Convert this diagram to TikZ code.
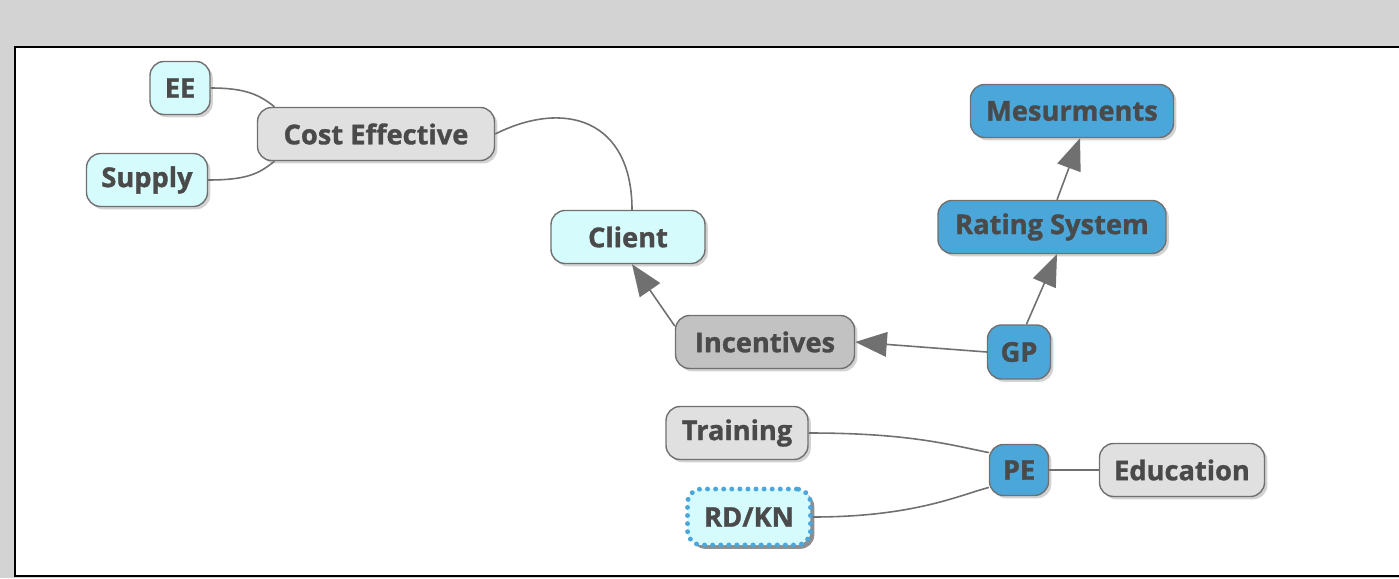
\documentclass[tikz,border=0pt]{standalone}
\usepackage{fontspec}
\setmainfont{Open Sans}[BoldFeatures={FakeBold=1.2}]
\usepackage{xcolor}
\usepackage{tikz}
\usetikzlibrary{arrows.meta,shadows}

\definecolor{bggray}{HTML}{D3D3D3}
\definecolor{cyanfill}{HTML}{D6FBFD}
\definecolor{grayfill}{HTML}{E0E0E0}
\definecolor{midgray}{HTML}{C2C2C2}
\definecolor{bluefill}{HTML}{4BA7DA}
\definecolor{rimgray}{HTML}{707070}
\definecolor{inkgray}{HTML}{4A4A4A}

\begin{document}
\begin{tikzpicture}[x=0.02cm, y=-0.02cm]
	\useasboundingbox (0, 0) rectangle (1399, 578);
	\fill[bggray] (0, 0) rectangle (1399, 578);
	\draw[fill=white, line width=1.2pt] (15, 47) rectangle (1420, 576);

	\begin{scope}[
		topic/.style={align=center, draw=rimgray, line width=0.8pt, rounded corners=8pt, text=inkgray, font=\fontsize{15.5}{17}\selectfont\bfseries, minimum height=1.06cm, inner xsep=0pt, drop shadow={shadow xshift=1.6pt, shadow yshift=-1.6pt, opacity=0.35}},
		pale/.style={topic, fill=cyanfill},
		plain/.style={topic, fill=grayfill},
		deep/.style={topic, fill=bluefill}]
		\node[pale, minimum width=1.2cm] (EE) at (180, 88) {EE};
		\node[pale, minimum width=2.42cm] (Supply) at (147, 180) {Supply};
		\node[plain, minimum width=4.74cm] (Cost) at (376, 134) {Cost Effective};
		\node[pale, minimum width=3.08cm] (Client) at (628, 237) {Client};
		\node[deep, minimum width=4.06cm] (Mesurments) at (1072, 111) {Mesurments};
		\node[deep, minimum width=4.56cm] (Rating) at (1052, 227) {Rating System};
		\node[plain, fill=midgray, minimum width=3.58cm] (Incentives) at (765, 342) {Incentives};
		\node[deep, minimum width=1.26cm, minimum height=1.08cm] (GP) at (1019, 352) {GP};
		\node[plain, minimum width=2.84cm] (Training) at (737, 433) {Training};
		\node[pale, draw=bluefill, line width=2.8pt, line cap=round, dash pattern=on 0pt off 4.6pt, minimum width=2.46cm, minimum height=1.12cm, drop shadow={shadow xshift=2.2pt, shadow yshift=-2.2pt, opacity=0.85}] (RDKN) at (749, 517) {RD/KN};
		\node[deep, minimum width=1.18cm, minimum height=1.02cm] (PE) at (1019, 470) {PE};
		\node[plain, minimum width=3.3cm] (Education) at (1182, 470) {Education};
	\end{scope}

	\begin{scope}[link/.style={draw=rimgray, line width=0.9pt}, push/.style={link, -{Triangle[length=18pt, width=14pt]}}]
		\draw[link] (EE.east) .. controls +(35, 0) and +(-15, -12) .. (Cost.165);
		\draw[link] (Supply.east) .. controls +(40, 0) and +(-15, 12) .. (Cost.195);
		\draw[link] (Cost.east) .. controls +(70, -35) and +(0, -90) .. ([xshift=0.08cm]Client.north);
		\draw[push] (Incentives.170) -- ([xshift=0.08cm]Client.south);
		\draw[push] (GP.west) -- (Incentives.east);
		\draw[push] (GP.75) -- ([xshift=0.1cm]Rating.south);
		\draw[push] ([xshift=0.1cm]Rating.north) -- ([xshift=0.16cm]Mesurments.south);
		\draw[link] (Training.east) .. controls +(100, 0) and +(-40, -8) .. (PE.150);
		\draw[link] (RDKN.east) .. controls +(100, 0) and +(-30, 8) .. (PE.210);
		\draw[link] (PE.east) -- (Education.west);
	\end{scope}
\end{tikzpicture}
\end{document}
